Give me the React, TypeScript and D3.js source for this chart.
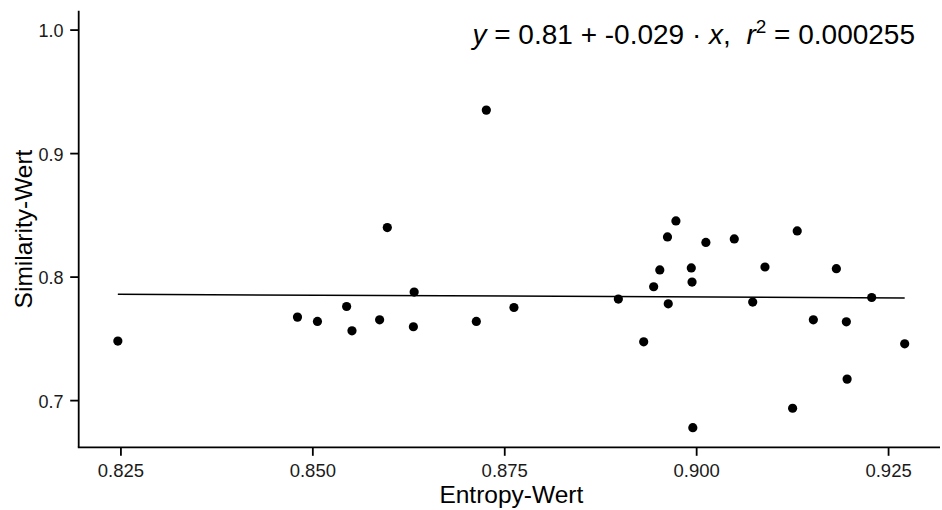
import React from "react";
import * as d3 from "d3";

// Entropy value (x) and similarity value (y) per observation
const entropy = [
  0.8246, 0.848, 0.8506, 0.8544, 0.8551, 0.8587, 0.8597, 0.8632, 0.8631, 0.8713,
  0.8726, 0.8762, 0.8898, 0.8931, 0.8944, 0.8952, 0.8962, 0.8963, 0.8973, 0.8993,
  0.8994, 0.8995, 0.9012, 0.9049, 0.9073, 0.9089, 0.9125, 0.9131, 0.9152, 0.9182,
  0.9195, 0.9196, 0.9228, 0.9271,
];
const similarity = [
  0.7482, 0.7676, 0.7641, 0.7762, 0.7565, 0.7654, 0.8401, 0.7879, 0.7598, 0.7641,
  0.9352, 0.7754, 0.7822, 0.7476, 0.7922, 0.8058, 0.8325, 0.7784, 0.8455, 0.8074,
  0.796, 0.6781, 0.8281, 0.8309, 0.7798, 0.8082, 0.6938, 0.8374, 0.7654, 0.8068,
  0.7638, 0.7174, 0.7835, 0.746,
];

// Fitted linear model as reported in the annotation
const intercept = 0.81;
const slope = -0.029;
const rSquared = "0.000255";

const xTicks = [0.825, 0.85, 0.875, 0.9, 0.925];
const yTicks = [0.7, 0.8, 0.9, 1.0];
const xLabel = "Entropy-Wert";
const yLabel = "Similarity-Wert";

const W = 942;
const H = 510;
const left = 78.7;
const right = 940;
const top = 10.7;
const bottom = 447.3;
const font = "'Liberation Sans', Arial, sans-serif";

export default function App() {
  const x = d3.scaleLinear().domain([0.8195, 0.9317]).range([left, right]);
  const y = d3.scaleLinear().domain([0.6622, 1.0157]).range([bottom, top]);
  const fx = d3.format(".3f");
  const fy = d3.format(".1f");

  const [xMin, xMax] = d3.extent(entropy) as [number, number];
  const fit = d3
    .line<number>()
    .x((d) => x(d))
    .y((d) => y(intercept + slope * d));

  return (
    <svg
      width={W}
      height={H}
      style={{ position: "absolute", left: 0, top: 0, background: "#fff" }}
      fontFamily={font}
    >
      <rect width={W} height={H} fill="#fff" />

      {/* regression line */}
      <path d={fit([xMin, xMax]) || ""} stroke="#000" strokeWidth={1.5} fill="none" />

      {/* observations */}
      {entropy.map((e, i) => (
        <circle key={i} cx={x(e)} cy={y(similarity[i])} r={4.6} fill="#000" />
      ))}

      {/* axes */}
      <line x1={left} x2={left} y1={top} y2={bottom} stroke="#000" strokeWidth={1.8} />
      <line x1={left - 0.9} x2={right} y1={bottom} y2={bottom} stroke="#000" strokeWidth={1.8} />

      {xTicks.map((t) => (
        <g key={t} transform={`translate(${x(t)},0)`}>
          <line y1={bottom} y2={bottom + 8.5} stroke="#000" strokeWidth={1.8} />
          <text y={477} textAnchor="middle" fontSize={18.5} fill="#1a1a1a">
            {fx(t)}
          </text>
        </g>
      ))}
      {yTicks.map((t) => (
        <g key={t} transform={`translate(0,${y(t)})`}>
          <line x1={left - 8.5} x2={left} stroke="#000" strokeWidth={1.8} />
          <text x={63.5} dy="0.4em" textAnchor="end" fontSize={18} fill="#1a1a1a">
            {fy(t)}
          </text>
        </g>
      ))}

      <text x={(left + right) / 2 + 2} y={503} textAnchor="middle" fontSize={24.5} fill="#000">
        {xLabel}
      </text>
      <text
        transform={`translate(32,${(top + bottom) / 2}) rotate(-90)`}
        textAnchor="middle"
        fontSize={24.5}
        fill="#000"
      >
        {yLabel}
      </text>

      {/* model annotation */}
      <text x={915} y={43.5} textAnchor="end" fontSize={28} fill="#000" style={{ whiteSpace: "pre" }}>
        <tspan fontStyle="italic">y</tspan>
        <tspan>{` = ${intercept} + ${slope} · `}</tspan>
        <tspan fontStyle="italic">x</tspan>
        <tspan>{",  "}</tspan>
        <tspan fontStyle="italic">r</tspan>
        <tspan dy={-11} fontSize={19}>2</tspan>
        <tspan dy={11}>{` = ${rSquared}`}</tspan>
      </text>
    </svg>
  );
}
